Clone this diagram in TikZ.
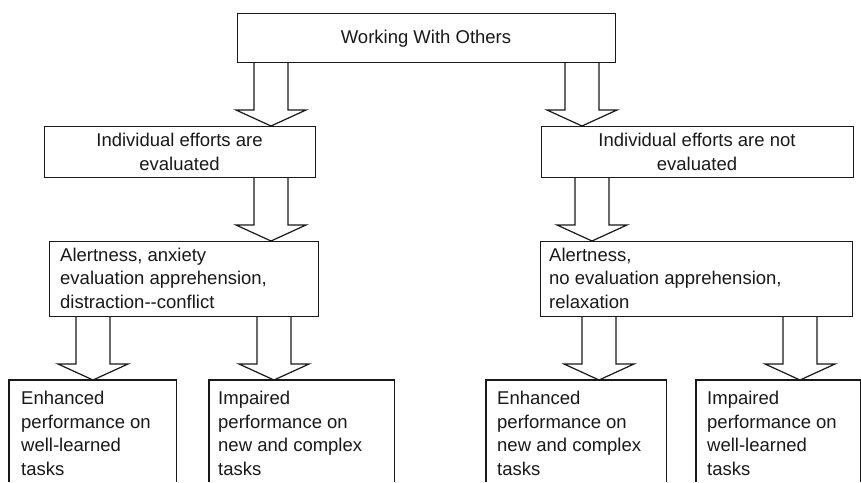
\documentclass[tikz,border=0pt]{standalone}
\usepackage{fontspec}
\setmainfont{Liberation Sans}
\usetikzlibrary{calc}
\newcommand\fstrut{\rule{0pt}{14pt}}
\newcommand\blockarr[3]{% source, target, centre x
  \draw[barrow] let \p1=(#1.south), \p2=(#2.north) in
    ({#3pt-17pt},\y1) -- ({#3pt-17pt},{\y2+16pt}) -- ({#3pt-35pt},{\y2+16pt})
    -- ({#3pt},\y2) -- ({#3pt+35pt},{\y2+16pt}) -- ({#3pt+17pt},{\y2+16pt})
    -- ({#3pt+17pt},\y1);}
\tikzset{
  box/.style={draw=black!90, line width=1.2pt, inner sep=0pt, anchor=north west},
  openbox/.style={inner sep=0pt, anchor=north west},
  openedge/.style={draw=black!90, line width=1.2pt},
  barrow/.style={draw=black!90, line width=1.2pt, line join=miter},
  txt/.style={inner sep=0pt, font=\fontsize{18.5pt}{23.5pt}\selectfont, text=black!90},
}
\begin{document}
\begin{tikzpicture}[x=1pt,y=-1pt]
\useasboundingbox[fill=white] (0,0) rectangle (861,482);
% boxes
\node[box, minimum width=378pt, minimum height=49pt] (T) at (237,13) {};
\node[box, minimum width=271pt, minimum height=51pt] (L1) at (44,126) {};
\node[box, minimum width=312pt, minimum height=51pt] (R1) at (541,126) {};
\node[box, minimum width=269pt, minimum height=75pt] (L2) at (49,241) {};
\node[box, minimum width=312pt, minimum height=75pt] (R2) at (540,241) {};
\node[openbox, minimum width=167pt, minimum height=102pt] (B1) at (9,380) {};
\node[openbox, minimum width=185pt, minimum height=102pt] (B2) at (209,380) {};
\node[openbox, minimum width=180pt, minimum height=102pt] (B3) at (486,380) {};
\node[openbox, minimum width=164pt, minimum height=102pt] (B4) at (696,380) {};
\foreach \b in {B1,B2,B3,B4}{
  \draw[openedge] (\b.south west) -- (\b.north west) -- (\b.north east) -- (\b.south east);
}
% texts
\node[txt, anchor=base] (Tt) at (426,43.5) {Working With Others};
\node[txt, align=center, anchor=north] (L1t) at (179.5,132.5) {\fstrut Individual efforts are\\evaluated};
\node[txt, align=center, anchor=north] (R1t) at (697,132.5) {\fstrut Individual efforts are not\\evaluated};
\node[txt, align=left, anchor=north west] (L2t) at (60,247) {\fstrut Alertness, anxiety\\evaluation apprehension,\\distraction-\kern0pt-conflict};
\node[txt, align=left, anchor=north west] (R2t) at (549,247) {\fstrut Alertness,\\no evaluation apprehension,\\relaxation};
\node[txt, align=left, anchor=north west] (B1t) at (21,390.5) {\fstrut Enhanced\\performance on\\well-learned\\tasks};
\node[txt, align=left, anchor=north west] (B2t) at (218,390.5) {\fstrut Impaired\\performance on\\new and complex\\tasks};
\node[txt, align=left, anchor=north west] (B3t) at (497,390.5) {\fstrut Enhanced\\performance on\\new and complex\\tasks};
\node[txt, align=left, anchor=north west] (B4t) at (707,390.5) {\fstrut Impaired\\performance on\\well-learned\\tasks};
% block arrows
\blockarr{T}{L1}{271}
\blockarr{T}{R1}{582}
\blockarr{L1}{L2}{271}
\blockarr{R1}{R2}{592}
\blockarr{L2}{B1}{93}
\blockarr{L2}{B2}{274}
\blockarr{R2}{B3}{599}
\blockarr{R2}{B4}{800}
\end{tikzpicture}
\end{document}
